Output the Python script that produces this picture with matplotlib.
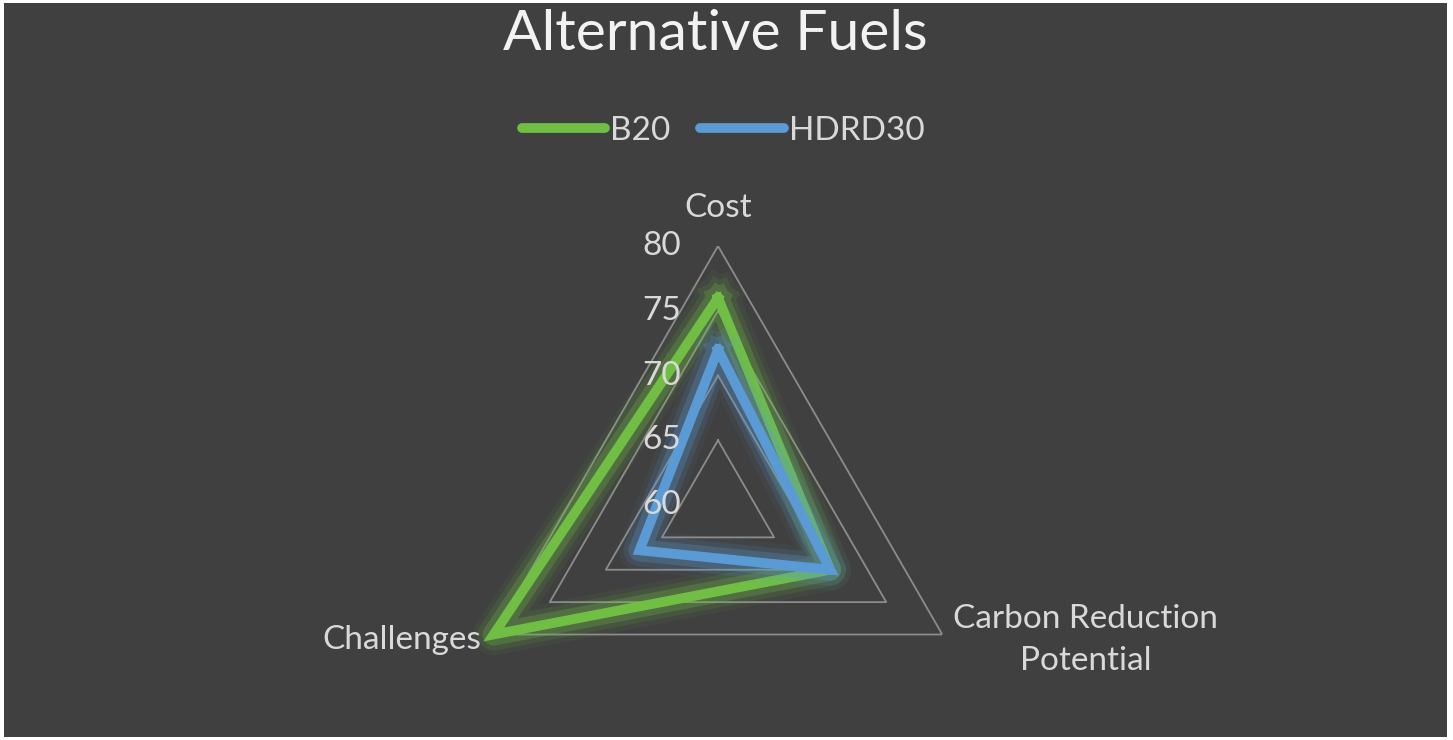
import numpy as np
import matplotlib
matplotlib.use("Agg")
import matplotlib.pyplot as plt
import matplotlib.patheffects as pe
from matplotlib.lines import Line2D
from matplotlib.patches import Rectangle

plt.rcParams['font.family'] = ['Lato', 'DejaVu Sans']

# datos
categories = ["Cost", "Carbon Reduction\nPotential", "Challenges"]
b20 = [76, 70, 80]
hdrd30 = [72, 70, 67]
grid_levels = [65, 70, 75, 80]
tick_levels = [60, 65, 70, 75, 80]
series_names = ["B20", "HDRD30"]

bg = "#404040"
txt = "#d9d9d9"
green = "#70bf44"
blue = "#5b9bd5"

fig = plt.figure(figsize=(14.53, 7.40), dpi=100)
fig.patch.set_facecolor("white")
fig.patches.append(Rectangle((4 / 1453, 3 / 740), 1443 / 1453, 734 / 740,
                             transform=fig.transFigure, facecolor=bg,
                             edgecolor="none", zorder=-10))

# ejes polares centrados en (718, 505) px, radio ~259 px
r_px = 259
ax = fig.add_axes([(718 - r_px) / 1453, (235 - r_px) / 740,
                   2 * r_px / 1453, 2 * r_px / 740], projection="polar")
ax.set_facecolor("none")
ax.set_theta_offset(np.pi / 2)
ax.set_theta_direction(-1)
ax.set_ylim(60, 80)
ax.grid(False)
ax.spines["polar"].set_visible(False)
ax.set_xticks([])
ax.set_yticks([])

angles = np.linspace(0, 2 * np.pi, len(categories), endpoint=False)
closed = np.concatenate([angles, angles[:1]])

# rejilla triangular
for lv in grid_levels:
    ax.plot(closed, [lv] * len(closed), color="#8c8c8c", lw=1.3, zorder=1)

# etiquetas del eje radial
for lv in tick_levels:
    ax.annotate(str(lv), xy=(0, lv), xytext=(-37, 0), textcoords="offset pixels",
                ha="right", va="center", fontsize=24, color=txt, zorder=5)

# etiquetas de categorias
offsets = [((0, 38), "center"), ((11, -5), "left"), ((-12, -5), "right")]
for ang, lab, (off, ha) in zip(angles, categories, offsets):
    ax.annotate(lab, xy=(ang, 80), xytext=off, textcoords="offset pixels",
                ha=ha, va="center", multialignment="center",
                fontsize=24, color=txt, linespacing=1.5)


def glow(color):
    return [pe.Stroke(linewidth=30, foreground=color, alpha=0.06, joinstyle="round"),
            pe.Stroke(linewidth=23, foreground=color, alpha=0.12, joinstyle="round"),
            pe.Stroke(linewidth=16, foreground=color, alpha=0.25, joinstyle="round"),
            pe.Normal()]


for vals, col in [(b20, green), (hdrd30, blue)]:
    v = np.concatenate([vals, vals[:1]])
    ax.plot(closed, v, color=col, lw=7, solid_joinstyle="miter",
            path_effects=glow(col), zorder=3, clip_on=False)

# titulo y leyenda
fig.text(0.492, 1 - 35 / 740, "Alternative Fuels", ha="center", va="center",
         fontsize=41, color="#f2f2f2")

handles = [Line2D([], [], color=c, lw=7, solid_capstyle="round")
           for c in (green, blue)]
fig.legend(handles, series_names, loc="center", bbox_to_anchor=(0.4975, 1 - 131 / 740),
           ncol=2, frameon=False, fontsize=24, labelcolor=txt,
           handlelength=2.5, handletextpad=0.15, columnspacing=0.9)

fig.savefig("out.png", dpi=100, facecolor=fig.get_facecolor())
